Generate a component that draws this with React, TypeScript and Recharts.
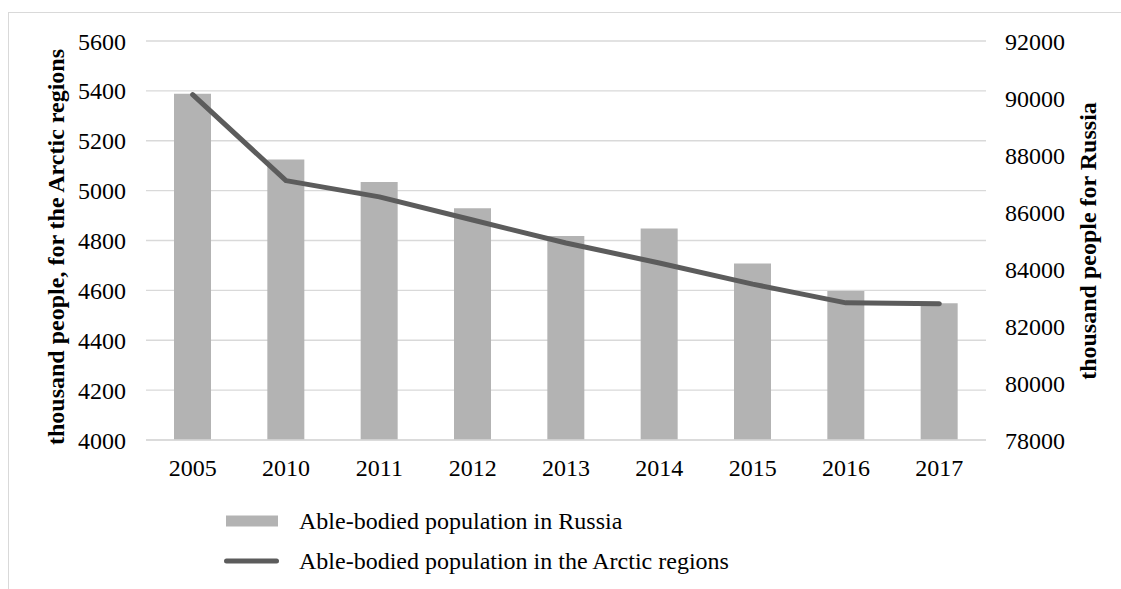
import {
  ComposedChart,
  Bar,
  Line,
  XAxis,
  YAxis,
  CartesianGrid,
  Legend,
} from "recharts";

const YEARS = ["2005", "2010", "2011", "2012", "2013", "2014", "2015", "2016", "2017"];
const RUSSIA = [90150, 87840, 87050, 86130, 85160, 85420, 84190, 83230, 82800];
const ARCTIC = [5385, 5040, 4975, 4882, 4790, 4710, 4625, 4550, 4546];
const LEFT_TICKS = [4000, 4200, 4400, 4600, 4800, 5000, 5200, 5400, 5600];
const RIGHT_TICKS = [78000, 80000, 82000, 84000, 86000, 88000, 90000, 92000];

const LEFT_TITLE = "thousand people, for the Arctic regions";
const RIGHT_TITLE = "thousand people for Russia";
const RUSSIA_NAME = "Able-bodied population in Russia";
const ARCTIC_NAME = "Able-bodied population in the Arctic regions";

const data = YEARS.map((year, i) => ({
  year,
  russia: RUSSIA[i],
  arctic: ARCTIC[i],
}));

const FONT = '"Liberation Serif", "Times New Roman", serif';
const BAR_COLOR = "#b3b3b3";
const LINE_COLOR = "#5c5c5c";
const GRID_COLOR = "#d9d9d9";

const tickStyle = { fontSize: 24, fill: "#000", fontFamily: FONT };

// axis titles drawn at fixed spots, rotated to read bottom-up
function axisTitle(tx: number, ty: number, text: string, size: number) {
  return () => (
    <text
      x={tx}
      y={ty}
      transform={`rotate(-90, ${tx}, ${ty})`}
      textAnchor="middle"
      fontFamily={FONT}
      fontWeight="bold"
      fontSize={size}
      fill="#000"
    >
      {text}
    </text>
  );
}

function LegendBox() {
  const row = {
    display: "flex",
    alignItems: "center",
    height: 40,
    fontFamily: FONT,
    fontSize: 24,
    color: "#000",
    whiteSpace: "nowrap" as const,
  };
  return (
    <div>
      <div style={row}>
        <svg width={56} height={12} style={{ marginRight: 19 }}>
          <rect x={2} y={0.5} width={52} height={11} fill={BAR_COLOR} />
        </svg>
        <span>{RUSSIA_NAME}</span>
      </div>
      <div style={row}>
        <svg width={56} height={12} style={{ marginRight: 19 }}>
          <line
            x1={2.5}
            x2={52.5}
            y1={6}
            y2={6}
            stroke={LINE_COLOR}
            strokeWidth={5}
            strokeLinecap="round"
          />
        </svg>
        <span>{ARCTIC_NAME}</span>
      </div>
    </div>
  );
}

export default function App() {
  return (
    <div
      style={{
        position: "absolute",
        top: 12,
        left: 8,
        width: 1113,
        height: 577,
        boxSizing: "border-box",
        borderTop: `1px solid ${GRID_COLOR}`,
        borderLeft: `1px solid ${GRID_COLOR}`,
        overflow: "hidden",
        background: "#fff",
      }}
    >
      <ComposedChart
        width={1112}
        height={576}
        data={data}
        margin={{ top: 28, right: 0, bottom: 109, left: 0 }}
        barCategoryGap="30%"
      >
        <CartesianGrid yAxisId="left" vertical={false} stroke={GRID_COLOR} strokeWidth={1.3} />
        <XAxis
          dataKey="year"
          interval={0}
          height={40}
          axisLine={{ stroke: GRID_COLOR, strokeWidth: 1.3 }}
          tickLine={false}
          tickSize={0}
          tickMargin={19}
          tick={tickStyle}
        />
        <YAxis
          yAxisId="left"
          domain={[4000, 5600]}
          ticks={LEFT_TICKS}
          interval={0}
          width={137}
          axisLine={false}
          tickLine={false}
          tickSize={0}
          tickMargin={20}
          tick={tickStyle}
          label={{ content: axisTitle(55, 234, LEFT_TITLE, 24) }}
        />
        <YAxis
          yAxisId="right"
          orientation="right"
          domain={[78000, 92000]}
          ticks={RIGHT_TICKS}
          interval={0}
          width={135}
          axisLine={false}
          tickLine={false}
          tickSize={0}
          tickMargin={19}
          tick={{ ...tickStyle, textAnchor: "start" }}
          label={{ content: axisTitle(1087, 228, RIGHT_TITLE, 24) }}
        />
        <Bar yAxisId="right" dataKey="russia" name={RUSSIA_NAME} fill={BAR_COLOR} isAnimationActive={false} />
        <Line
          yAxisId="left"
          type="linear"
          dataKey="arctic"
          name={ARCTIC_NAME}
          stroke={LINE_COLOR}
          strokeWidth={5}
          strokeLinecap="round"
          strokeLinejoin="round"
          dot={false}
          activeDot={false}
          isAnimationActive={false}
        />
        <Legend
          layout="vertical"
          align="center"
          verticalAlign="middle"
          content={() => <LegendBox />}
          wrapperStyle={{ top: 488, left: 215, width: 600, height: 80, right: "auto", bottom: "auto" }}
        />
      </ComposedChart>
    </div>
  );
}
